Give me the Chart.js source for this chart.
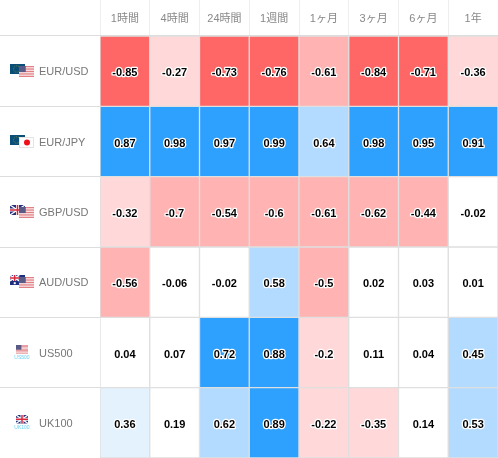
<!DOCTYPE html>
<html>
<head>
<meta charset="utf-8">
<style>
  html, body { margin: 0; padding: 0; background: #fff; }
  #wrap { width: 498px; height: 458px; }
</style>
<script src="https://cdn.jsdelivr.net/npm/chart.js@4"></script>
</head>
<body>
<div id="wrap"><canvas id="chart"></canvas></div>
<script>
const periods = ['1時間', '4時間', '24時間', '1週間', '1ヶ月', '3ヶ月', '6ヶ月', '1年'];
const pairs = ['EUR/USD', 'EUR/JPY', 'GBP/USD', 'AUD/USD', 'US500', 'UK100'];

const eurUsd = [-0.85, -0.27, -0.73, -0.76, -0.61, -0.84, -0.71, -0.36];
const eurJpy = [0.87, 0.98, 0.97, 0.99, 0.64, 0.98, 0.95, 0.91];
const gbpUsd = [-0.32, -0.7, -0.54, -0.6, -0.61, -0.62, -0.44, -0.02];
const audUsd = [-0.56, -0.06, -0.02, 0.58, -0.5, 0.02, 0.03, 0.01];
const us500 = [0.04, 0.07, 0.72, 0.88, -0.2, 0.11, 0.04, 0.45];
const uk100 = [0.36, 0.19, 0.62, 0.89, -0.22, -0.35, 0.14, 0.53];

const rows = [eurUsd, eurJpy, gbpUsd, audUsd, us500, uk100];
const flagSets = [['eu', 'us'], ['eu', 'jp'], ['gb', 'us'], ['au', 'us'], ['us'], ['gb']];

function cellColor(v) {
  if (v > 0.7) return '#2ea1ff';
  if (v > 0.4) return '#b3dbff';
  if (v >= 0.2) return '#e3f2fd';
  if (v < -0.7) return '#ff6666';
  if (v < -0.4) return '#ffb3b3';
  if (v <= -0.2) return '#ffd9d9';
  return '#ffffff';
}

// --- little flag icons, drawn next to the row labels
function usFlag(c, x, y, w, h) {
  c.fillStyle = '#fff'; c.fillRect(x, y, w, h);
  c.fillStyle = '#dc6a70';
  for (let i = 0; i < 7; i++) c.fillRect(x, y + i * h / 6.5, w, h / 13);
  c.fillStyle = '#5a5a86'; c.fillRect(x, y, w * 0.45, h * 0.55);
}
function euFlag(c, x, y, w, h) {
  c.fillStyle = '#0b4f78'; c.fillRect(x, y, w, h);
  c.strokeStyle = '#7f9a3c'; c.lineWidth = 0.7;
  c.setLineDash([1, 1]);
  c.beginPath(); c.arc(x + w * 0.45, y + h * 0.5, 3.2, 0, Math.PI * 2); c.stroke();
  c.setLineDash([]);
}
function jpFlag(c, x, y, w, h) {
  c.fillStyle = '#fff'; c.fillRect(x, y, w, h);
  c.strokeStyle = '#e4e4e4'; c.lineWidth = 1; c.strokeRect(x + 0.5, y + 0.5, w - 1, h - 1);
  c.fillStyle = '#f0101c';
  c.beginPath(); c.arc(x + w / 2 + 0.5, y + h / 2, 3, 0, Math.PI * 2); c.fill();
}
function gbFlag(c, x, y, w, h) {
  c.fillStyle = '#27307a'; c.fillRect(x, y, w, h);
  c.strokeStyle = '#fff'; c.lineWidth = 1.4;
  c.beginPath(); c.moveTo(x, y); c.lineTo(x + w, y + h); c.moveTo(x + w, y); c.lineTo(x, y + h); c.stroke();
  c.fillStyle = '#fff';
  c.fillRect(x + w / 2 - 1.5, y, 3, h); c.fillRect(x, y + h / 2 - 1.5, w, 3);
  c.fillStyle = '#d8283c';
  c.fillRect(x + w / 2 - 0.75, y, 1.5, h); c.fillRect(x, y + h / 2 - 0.75, w, 1.5);
}
function auFlag(c, x, y, w, h) {
  c.fillStyle = '#1f2f80'; c.fillRect(x, y, w, h);
  gbFlag(c, x, y, w * 0.62, h * 0.6);
  c.fillStyle = '#fff';
  c.fillRect(x + w * 0.7, y + h * 0.2, 1, 1);
  c.fillRect(x + w * 0.85, y + h * 0.45, 1, 1);
  c.fillRect(x + w * 0.7, y + h * 0.75, 1, 1);
  c.fillRect(x + w * 0.25, y + h * 0.72, 2, 2);
}
const flagDraw = { us: usFlag, eu: euFlag, jp: jpFlag, gb: gbFlag, au: auFlag };

const flagPlugin = {
  id: 'flagPlugin',
  afterDraw(chart) {
    const c = chart.ctx;
    const sc = chart.scales.rows;
    c.save();
    flagSets.forEach((set, i) => {
      const mid = Math.round(sc.getPixelForValue(i));
      if (set.length === 2) {
        flagDraw[set[0]](c, 10, mid - 7, 15, 10);
        flagDraw[set[1]](c, 19, mid - 5, 15, 11);
      } else {
        flagDraw[set[0]](c, 16, mid - 8, 12, 8.5);
        c.fillStyle = '#6cd3f7';
        c.font = '5px "Liberation Sans"';
        c.textAlign = 'center';
        c.textBaseline = 'middle';
        c.fillText(pairs[i], 22, mid + 5);
      }
    });
    c.restore();
  }
};

// value text over each cell, with white outline
const cellText = {
  id: 'cellText',
  afterDatasetsDraw(chart) {
    const c = chart.ctx;
    c.save();
    c.font = 'bold 11px "Liberation Sans"';
    c.textAlign = 'center';
    c.textBaseline = 'middle';
    c.lineJoin = 'round';
    chart.data.datasets.forEach((ds, i) => {
      chart.getDatasetMeta(i).data.forEach((bar, j) => {
        const v = rows[i][j];
        const y = (bar.y + bar.base) / 2 + 2;
        c.lineWidth = 2.5;
        c.strokeStyle = '#fff';
        c.strokeText(String(v), bar.x, y);
        c.fillStyle = '#000';
        c.fillText(String(v), bar.x, y);
      });
    });
    c.restore();
  }
};

new Chart(document.getElementById('chart'), {
  type: 'bar',
  data: {
    labels: periods,
    datasets: rows.map((vals, i) => ({
      label: pairs[i],
      data: vals.map(() => [i, i + 1]),
      backgroundColor: vals.map(cellColor),
      borderColor: '#dfdfdf',
      borderWidth: 1,
      borderSkipped: false,
      barPercentage: 1,
      categoryPercentage: 1,
      grouped: false,
      yAxisID: 'y'
    }))
  },
  options: {
    responsive: true,
    maintainAspectRatio: false,
    animation: false,
    layout: { padding: 0 },
    plugins: { legend: { display: false }, tooltip: { enabled: false } },
    scales: {
      x: {
        position: 'top',
        offset: true,
        grid: { offset: true, color: '#eeeeee', tickLength: 36 },
        border: { display: false },
        ticks: { color: '#888', font: { family: '"Liberation Sans", "Noto Sans CJK JP"', size: 11 }, padding: -26, maxRotation: 0 },
        afterFit(s) { s.height = 36; }
      },
      y: { display: false, min: 0, max: 6, reverse: true },
      rows: {
        type: 'category',
        position: 'left',
        labels: pairs,
        offset: true,
        grid: { offset: true, color: '#dddddd', tickLength: 100, lineWidth: 1 },
        border: { display: false },
        ticks: { color: '#777', font: { family: '"Liberation Sans"', size: 11 }, mirror: true, crossAlign: 'near', padding: -61, labelOffset: 1 },
        afterFit(s) { s.width = 100; }
      }
    }
  },
  plugins: [cellText, flagPlugin]
});
</script>
</body>
</html>
